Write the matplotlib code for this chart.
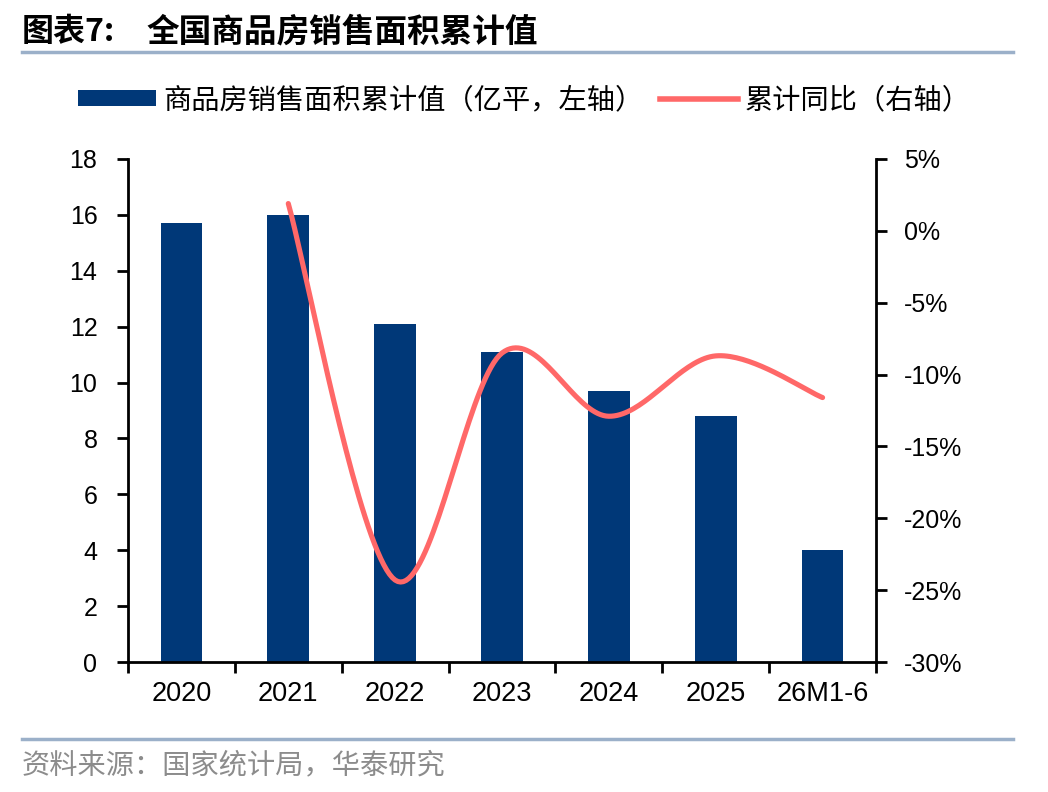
import numpy as np
import matplotlib
matplotlib.use("Agg")
import matplotlib.pyplot as plt
from matplotlib.lines import Line2D
from matplotlib.patches import Patch

plt.rcParams['font.family'] = ['Liberation Sans', 'Noto Sans CJK SC', 'DejaVu Sans']

categories = ["2020", "2021", "2022", "2023", "2024", "2025", "26M1-6"]
area = [15.7, 16.0, 12.1, 11.1, 9.7, 8.8, 4.0]          # 亿平
yoy_cats = ["2021", "2022", "2023", "2024", "2025", "26M1-6"]
yoy = [1.9, -24.3, -8.5, -12.9, -8.7, -11.6]             # %

title_num = "图表7:"
title = "全国商品房销售面积累计值"
bar_label = "商品房销售面积累计值（亿平，左轴）"
line_label = "累计同比（右轴）"
source = "资料来源：国家统计局，华泰研究"

BAR_C = "#003878"
LINE_C = "#FF6868"
RULE_C = "#9BB0C9"
CJK = ['Noto Sans CJK SC', 'DejaVu Sans']

def smooth(xs, ys, n=40):
    # Bezier smoothing through the points (Excel-style Catmull-Rom)
    xs = np.asarray(xs, float); ys = np.asarray(ys, float)
    P = np.column_stack([xs, ys])
    out = []
    for i in range(len(P) - 1):
        p0 = P[i - 1] if i > 0 else P[i]
        p1 = P[i]; p2 = P[i + 1]
        p3 = P[i + 2] if i + 2 < len(P) else P[i + 1]
        c1 = p1 + (p2 - p0) / 6.0
        c2 = p2 - (p3 - p1) / 6.0
        t = np.linspace(0, 1, n)[:, None]
        seg = ((1 - t) ** 3) * p1 + 3 * ((1 - t) ** 2) * t * c1 + 3 * (1 - t) * t ** 2 * c2 + t ** 3 * p2
        out.append(seg if i == 0 else seg[1:])
    s = np.vstack(out)
    return s[:, 0], s[:, 1]

fig = plt.figure(figsize=(10.48, 7.92), dpi=100)
ax = fig.add_axes([128/1048, 1-662/792, (876-128)/1048, (662-159)/792])
ax2 = ax.twinx()

x = np.arange(len(categories))
ax.bar(x, area, width=0.39, color=BAR_C, zorder=2)
ax.set_xlim(-0.5, len(categories) - 0.5)
ax.set_ylim(0, 18)
ax.set_yticks(np.arange(0, 19, 2))

xi = [categories.index(c) for c in yoy_cats]
sx, sy = smooth(xi, yoy)
ax2.plot(sx, sy, color=LINE_C, lw=3.7, solid_capstyle='round', zorder=3)
ax2.set_ylim(-30, 5)
ax2.set_yticks(np.arange(-30, 6, 5))
ax2.set_yticklabels([f"{v}%" for v in range(-30, 6, 5)])

ax.set_xticks(x)
ax.set_xticklabels(categories)
ax.set_xticks(np.arange(-0.5, len(categories), 1.0), minor=True)
ax.tick_params(axis='x', which='major', length=0, pad=14, labelsize=19.5)
ax.tick_params(axis='x', which='minor', length=8, width=2, direction='out')
ax.tick_params(axis='y', length=8, width=2, direction='out', pad=14, labelsize=18)
ax2.tick_params(axis='y', length=8, width=2, direction='out', pad=12, labelsize=18)

for a in (ax, ax2):
    a.spines['top'].set_visible(False)
    for s in ('left', 'right', 'bottom'):
        a.spines[s].set_linewidth(2)
ax2.spines['left'].set_visible(False)
ax2.spines['bottom'].set_visible(False)
ax.spines['right'].set_visible(False)
ax2.set_zorder(ax.get_zorder() + 1)
ax2.patch.set_visible(False)

handles = [Patch(facecolor=BAR_C, edgecolor='none'),
           Line2D([0], [0], color=LINE_C, lw=4)]
fig.legend(handles, [bar_label, line_label], loc='center left',
           bbox_to_anchor=(67/1048, 1-100/792), ncol=2, frameon=False,
           prop={'family': CJK, 'size': 20.3}, handlelength=2.75, handleheight=0.5,
           handletextpad=0.25, columnspacing=0.6, borderaxespad=0)

fig.text(22/1048, 1-32/792, title_num, family=CJK, fontsize=23, fontweight='bold',
         va='center', ha='left')
fig.text(146/1048, 1-32/792, title, family=CJK, fontsize=23.5, fontweight='bold',
         va='center', ha='left')
fig.add_artist(Line2D([22/1048, 1013/1048], [1-52/792, 1-52/792], color=RULE_C, lw=2.5))
fig.add_artist(Line2D([22/1048, 1013/1048], [1-739/792, 1-739/792], color=RULE_C, lw=2.5))
fig.text(22/1048, 1-765/792, source, family=CJK, fontsize=20.3, color='#8C8C8C',
         va='center', ha='left')

fig.savefig("out.png", dpi=100)
